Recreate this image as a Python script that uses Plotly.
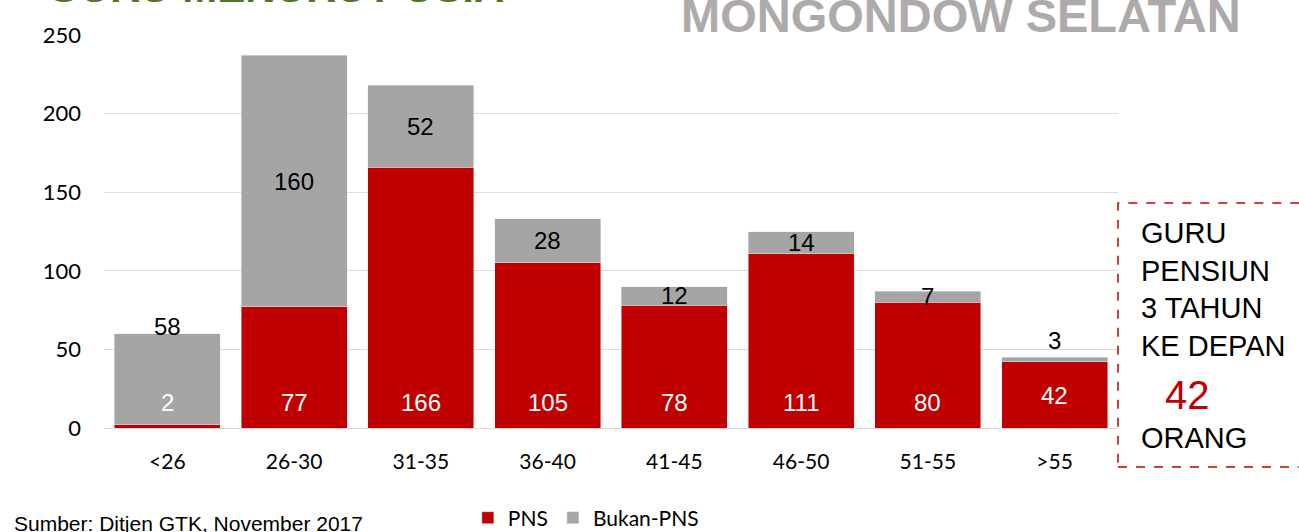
import plotly.graph_objects as go

categories = ["<26", "26-30", "31-35", "36-40", "41-45", "46-50", "51-55", ">55"]
pns = [2, 77, 166, 105, 78, 111, 80, 42]
bukan_pns = [58, 160, 52, 28, 12, 14, 7, 3]
y_ticks = [0, 50, 100, 150, 200, 250]
pensiun_count = 42

RED = "#C00000"
GRAY = "#A5A5A5"

fig = go.Figure()
fig.add_trace(go.Bar(x=categories, y=pns, name="PNS", marker_color=RED))
fig.add_trace(go.Bar(x=categories, y=bukan_pns, name="Bukan-PNS", marker_color=GRAY))

ann = []
# PNS labels (white, near the base)
for i, (c, v) in enumerate(zip(categories, pns)):
    shift = 17 if i == len(categories) - 1 else 10.5
    ann.append(dict(x=c, y=0, xref="x", yref="y", text=str(v), showarrow=False,
                    yanchor="bottom", yshift=shift,
                    font=dict(family="Liberation Sans, Arial", size=24, color="white")))
# Bukan-PNS labels (black, middle of segment; first/last above the bar)
for i, (c, p, b) in enumerate(zip(categories, pns, bukan_pns)):
    if i == 0:
        y, ysh = p + b, 7
    elif i == len(categories) - 1:
        y, ysh = p + b, 17
    else:
        y, ysh = p + b / 2, 0
    ann.append(dict(x=c, y=y, xref="x", yref="y", text=str(b), showarrow=False,
                    yanchor="middle", yshift=ysh,
                    font=dict(family="Liberation Sans, Arial", size=24, color="black")))

# Titles (cut by the top edge)
ann.append(dict(x=-0.058, y=1.186, xref="paper", yref="paper", xanchor="left", yanchor="top",
                text="<b>GURU MENURUT USIA</b>", showarrow=False,
                font=dict(family="Liberation Sans, Arial", size=42, color="#4A7729")))
ann.append(dict(x=0.567, y=1.121, xref="paper", yref="paper", xanchor="left", yanchor="top",
                text="<b>MONGONDOW SELATAN</b>", showarrow=False,
                font=dict(family="Liberation Sans, Arial", size=47, color="#AEAAAA")))

# Side box text
ann.append(dict(x=1.0207, y=0.353, xref="paper", yref="paper", xanchor="left", yanchor="middle",
                text="GURU<br>PENSIUN<br>3 TAHUN<br>KE DEPAN", align="left", showarrow=False,
                font=dict(family="Liberation Sans, Arial", size=29, color="black")))
ann.append(dict(x=1.0444, y=0.084, xref="paper", yref="paper", xanchor="left", yanchor="middle",
                text=str(pensiun_count), showarrow=False,
                font=dict(family="Liberation Sans, Arial", size=40, color=RED)))
ann.append(dict(x=1.0207, y=-0.0254, xref="paper", yref="paper", xanchor="left", yanchor="middle",
                text="ORANG", showarrow=False,
                font=dict(family="Liberation Sans, Arial", size=29, color="black")))

# Source
ann.append(dict(x=-0.0907, y=-0.208, xref="paper", yref="paper", xanchor="left", yanchor="top",
                text="Sumber: Ditjen GTK, November 2017", showarrow=False,
                font=dict(family="Liberation Sans, Arial", size=21, color="black")))

fig.update_layout(
    width=1299, height=532,
    margin=dict(l=104, r=181, t=35, b=104, autoexpand=False),
    paper_bgcolor="white", plot_bgcolor="white",
    barmode="stack", bargap=0.164,
    annotations=ann,
    shapes=[dict(type="rect", xref="paper", yref="paper",
                 x0=1.0, x1=1.19, y0=-0.0992, y1=0.5725,
                 line=dict(color=RED, width=1.5, dash="dash"))],
    legend=dict(orientation="h", xref="container", yref="container",
                x=0.451, y=0.0263, xanchor="center", yanchor="middle",
                font=dict(family="Lato", size=21, color="black"), bgcolor="rgba(0,0,0,0)",
                traceorder="normal"),
    xaxis=dict(tickfont=dict(family="Lato", size=21, color="black"), showline=False,
               ticks="", ticklabelstandoff=19, automargin=False),
    yaxis=dict(range=[0, 250], tickvals=y_ticks, showgrid=True, gridcolor="#DDDDDD",
               gridwidth=1, zeroline=True, zerolinecolor="#D9D9D9", zerolinewidth=1,
               tickfont=dict(family="Lato", size=22, color="black"), ticks="",
               ticklabelstandoff=22, automargin=False),
)

fig.write_html("out.html", config={"displayModeBar": False},
               post_script="document.body.style.margin='0';document.body.style.overflow='hidden';")
